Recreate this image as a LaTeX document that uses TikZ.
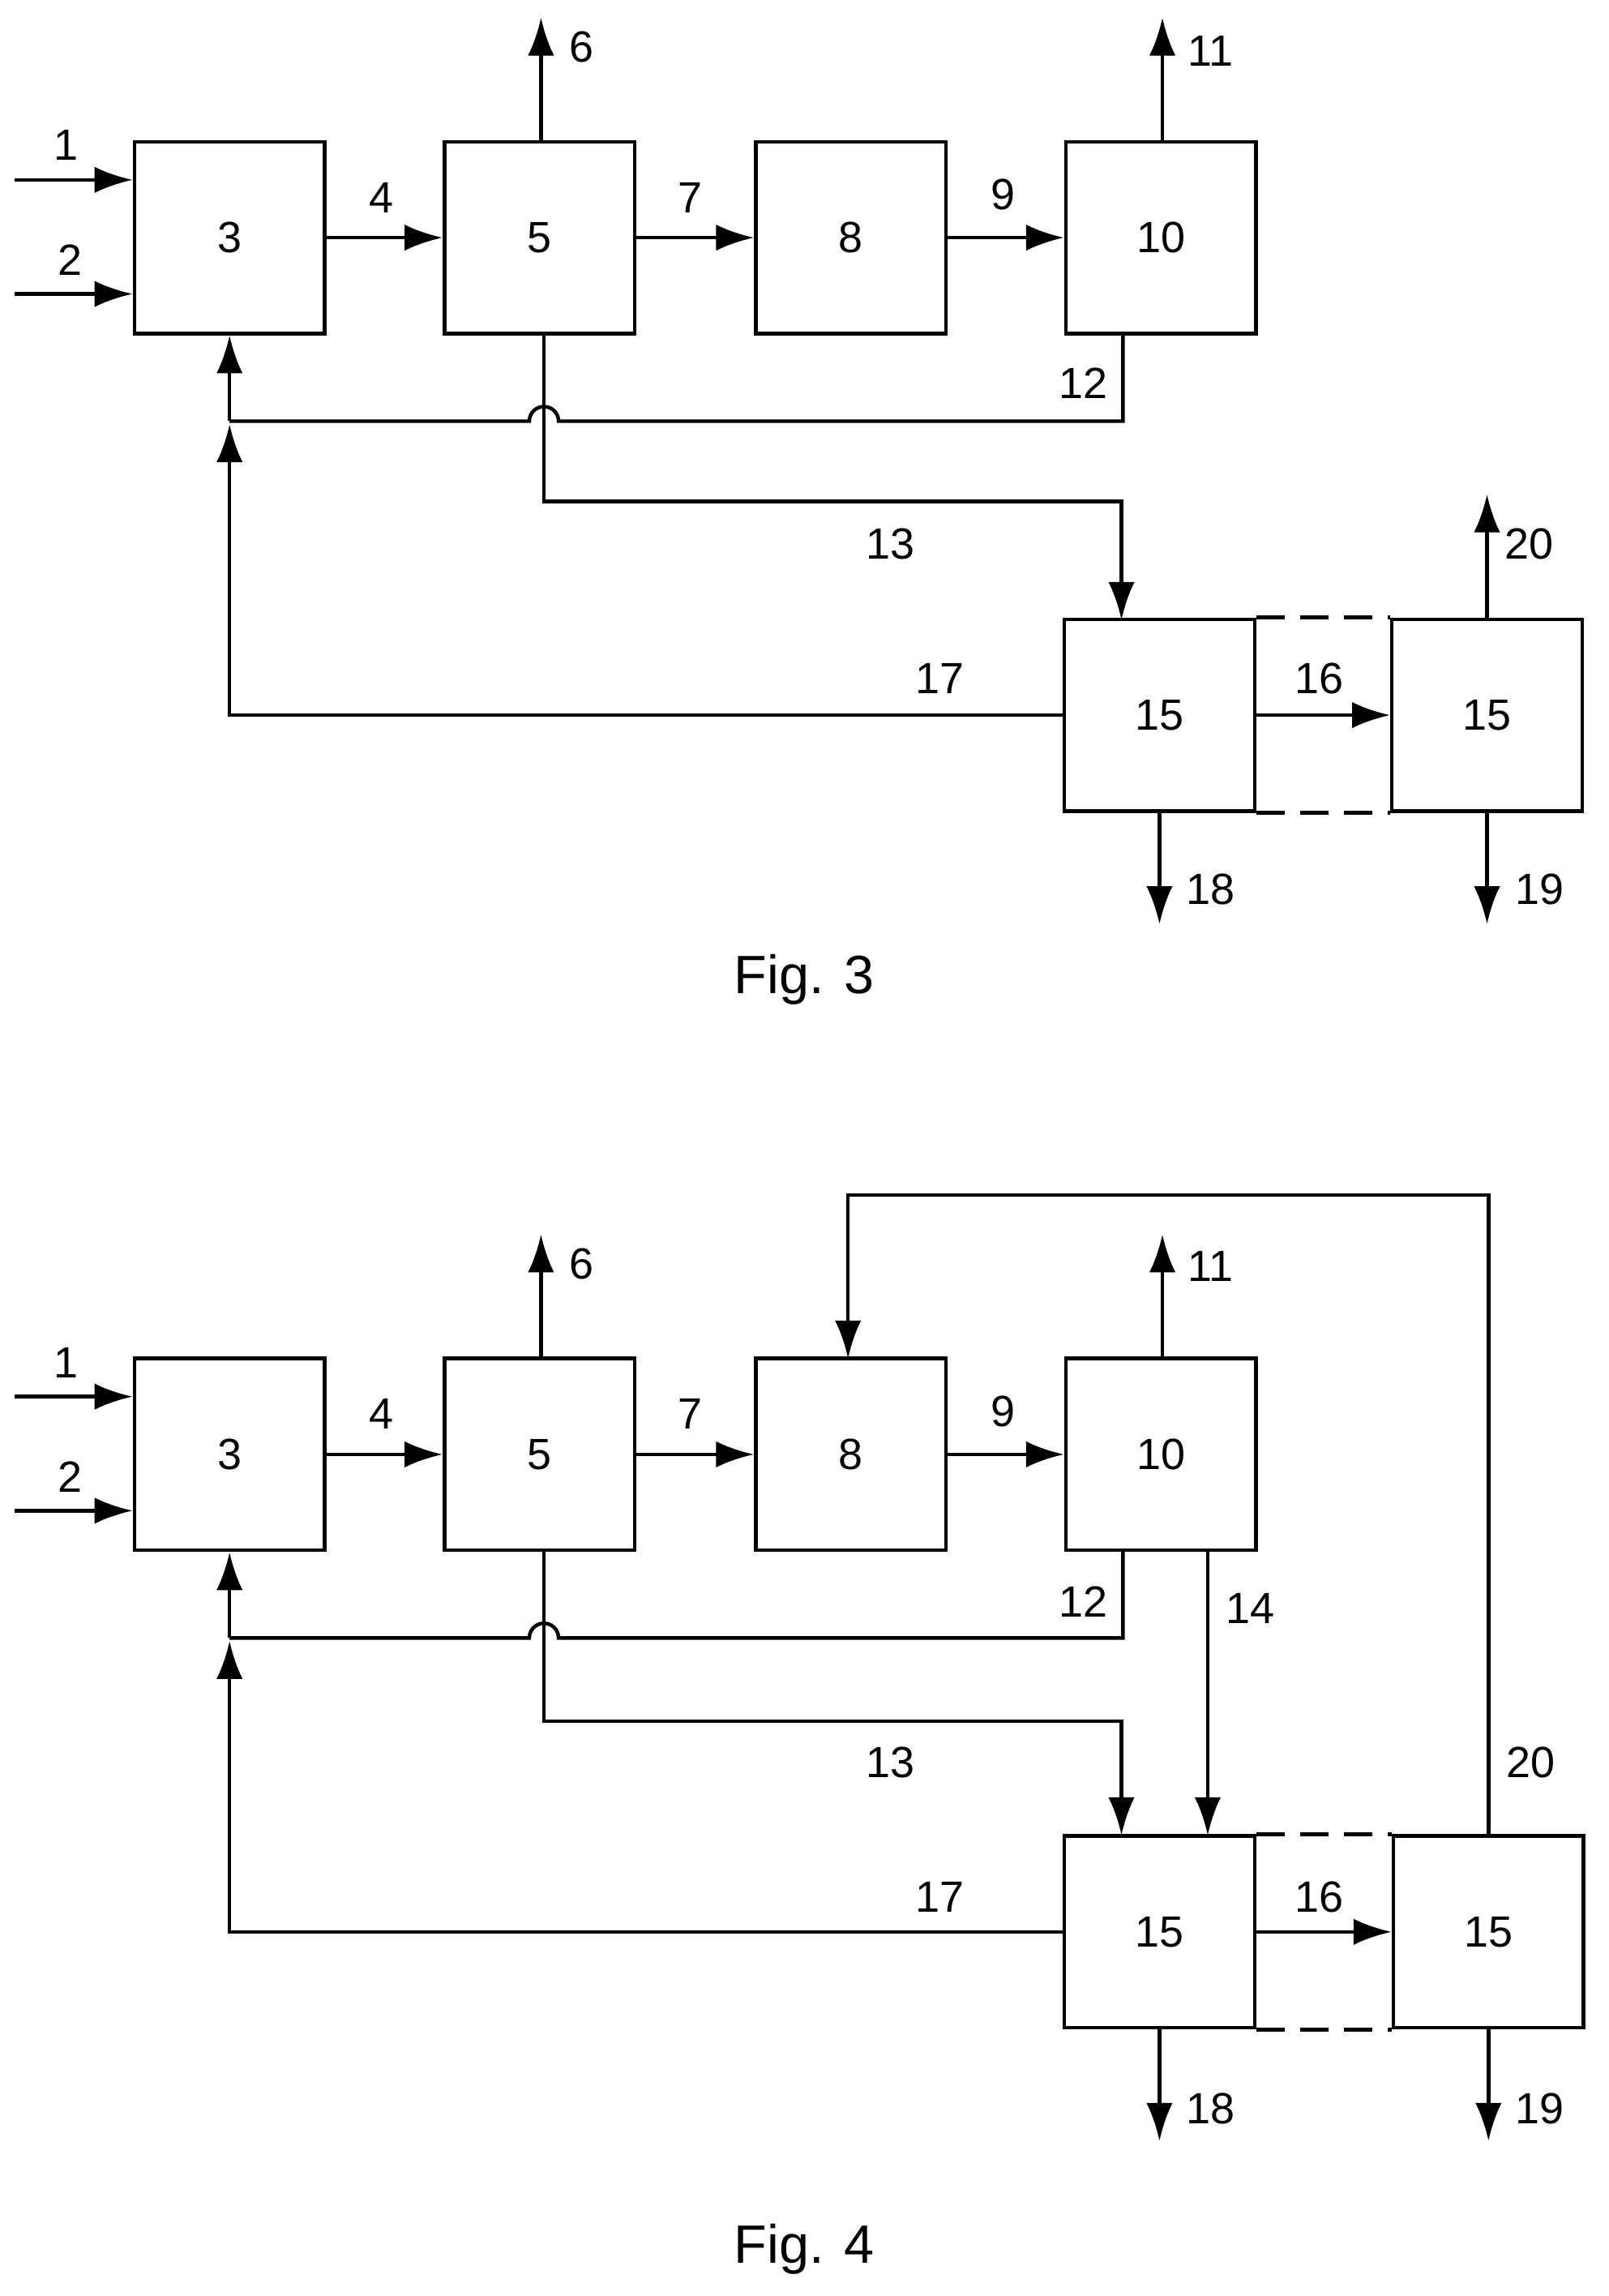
\documentclass[tikz,border=0pt]{standalone}
\usepackage{fontspec}
\setmainfont{Liberation Sans}
\usetikzlibrary{arrows.meta}
\tikzset{
  unit/.style={draw, line width=0.7pt, minimum width=1.3cm, minimum height=1.31cm, inner sep=0pt},
  flow/.style={line width=0.7pt, -{Latex[length=2.6mm,width=1.8mm]}},
  pipe/.style={line width=0.7pt},
  link/.style={line width=0.7pt, dash pattern=on 5.5pt off 3pt},
  lbl/.style={font=\fontsize{8.5}{10}\selectfont, inner sep=0pt}
}
\begin{document}
\begin{tikzpicture}[x=0.01cm, y=-0.01cm]
	\useasboundingbox (0,0) rectangle (1100,1570);
	% Fig. 3
	\node[unit] (a3) at (157,162.5) {\fontsize{8.5}{10}\selectfont 3};
	\node[unit] (a5) at (369,162.5) {\fontsize{8.5}{10}\selectfont 5};
	\node[unit] (a8) at (582,162.5) {\fontsize{8.5}{10}\selectfont 8};
	\node[unit] (a10) at (794,162.5) {\fontsize{8.5}{10}\selectfont 10};
	\node[unit] (a15) at (793,489) {\fontsize{8.5}{10}\selectfont 15};
	\node[unit] (a15b) at (1017,489) {\fontsize{8.5}{10}\selectfont 15};
	\coordinate (a1in) at (10,123);
	\coordinate (a2in) at (10,201);
	\coordinate (a6out) at (370,12);
	\coordinate (a11out) at (795,12);
	\coordinate (a20out) at (1017,338);
	\coordinate (a18out) at (793,632);
	\coordinate (a19out) at (1017,632);
	\coordinate (aret) at (157,288);
	
	\draw[flow] (a1in) -- (a1in -| a3.west);
	\draw[flow] (a2in) -- (a2in -| a3.west);
	\draw[flow] (a3) -- (a5);
	\draw[flow] (a5) -- (a8);
	\draw[flow] (a8) -- (a10);
	\draw[flow] (a15) -- (a15b);
	\draw[flow] (a6out |- a5.north) -- (a6out);
	\draw[flow] (a11out |- a10.north) -- (a11out);
	\draw[flow] (a15b.north) -- (a20out);
	\draw[flow] (a15.south) -- (a18out);
	\draw[flow] (a15b.south) -- (a19out);
	\draw[pipe] (768,228) -- (768,288) -- (382,288) arc (0:-180:10) -- (aret);
	\draw[flow] (aret) -- (a3.south);
	\draw[flow] (372,228) -- (372,343) -- (767,343) -- (767,424);
	\draw[flow] (a15.west) -- (157,489) -- (157,290);
	\draw[link] (a15.north east) -- (a15b.north west);
	\draw[link] (a15.south east) -- (a15b.south west);
	
	\node[lbl] at (45,99) {1};
	\node[lbl] at (48,178) {2};
	\node[lbl] at (261,135) {4};
	\node[lbl] at (398,32) {6};
	\node[lbl] at (472,135) {7};
	\node[lbl] at (686,133) {9};
	\node[lbl] at (828,35) {11};
	\node[lbl] at (741,262) {12};
	\node[lbl] at (609,372) {13};
	\node[lbl] at (643,464) {17};
	\node[lbl] at (902,464) {16};
	\node[lbl] at (1046,372) {20};
	\node[lbl] at (828,608) {18};
	\node[lbl] at (1053,608) {19};
	\node[font=\fontsize{10.5}{12}\selectfont] (fig3) at (550,670) {Fig. 3};
	
	% Fig. 4
	\node[unit] (b3) at (157,994.5) {\fontsize{8.5}{10}\selectfont 3};
	\node[unit] (b5) at (369,994.5) {\fontsize{8.5}{10}\selectfont 5};
	\node[unit] (b8) at (582,994.5) {\fontsize{8.5}{10}\selectfont 8};
	\node[unit] (b10) at (794,994.5) {\fontsize{8.5}{10}\selectfont 10};
	\node[unit] (b15) at (793,1321) {\fontsize{8.5}{10}\selectfont 15};
	\node[unit] (b15b) at (1018,1321) {\fontsize{8.5}{10}\selectfont 15};
	\coordinate (b1in) at (10,955);
	\coordinate (b2in) at (10,1033);
	\coordinate (b6out) at (370,844);
	\coordinate (b11out) at (795,844);
	\coordinate (b18out) at (793,1464);
	\coordinate (b19out) at (1018,1464);
	\coordinate (bret) at (157,1120);
	
	\draw[flow] (b1in) -- (b1in -| b3.west);
	\draw[flow] (b2in) -- (b2in -| b3.west);
	\draw[flow] (b3) -- (b5);
	\draw[flow] (b5) -- (b8);
	\draw[flow] (b8) -- (b10);
	\draw[flow] (b15) -- (b15b);
	\draw[flow] (b6out |- b5.north) -- (b6out);
	\draw[flow] (b11out |- b10.north) -- (b11out);
	\draw[flow] (b15b.north) -- (1018,817) -- (580,817) -- (580,929);
	\draw[flow] (826,1060) -- (826,1255);
	\draw[flow] (b15.south) -- (b18out);
	\draw[flow] (b15b.south) -- (b19out);
	\draw[pipe] (768,1060) -- (768,1120) -- (382,1120) arc (0:-180:10) -- (bret);
	\draw[flow] (bret) -- (b3.south);
	\draw[flow] (372,1060) -- (372,1177) -- (767,1177) -- (767,1255);
	\draw[flow] (b15.west) -- (157,1321) -- (157,1122);
	\draw[link] (b15.north east) -- (b15b.north west);
	\draw[link] (b15.south east) -- (b15b.south west);
	
	\node[lbl] at (45,932) {1};
	\node[lbl] at (48,1010) {2};
	\node[lbl] at (261,967) {4};
	\node[lbl] at (398,864) {6};
	\node[lbl] at (472,967) {7};
	\node[lbl] at (686,965) {9};
	\node[lbl] at (828,866) {11};
	\node[lbl] at (741,1095) {12};
	\node[lbl] at (855,1100) {14};
	\node[lbl] at (609,1205) {13};
	\node[lbl] at (643,1297) {17};
	\node[lbl] at (902,1297) {16};
	\node[lbl] at (1047,1205) {20};
	\node[lbl] at (828,1442) {18};
	\node[lbl] at (1053,1442) {19};
	\node[font=\fontsize{10.5}{12}\selectfont] (fig4) at (550,1538) {Fig. 4};
\end{tikzpicture}
\end{document}
